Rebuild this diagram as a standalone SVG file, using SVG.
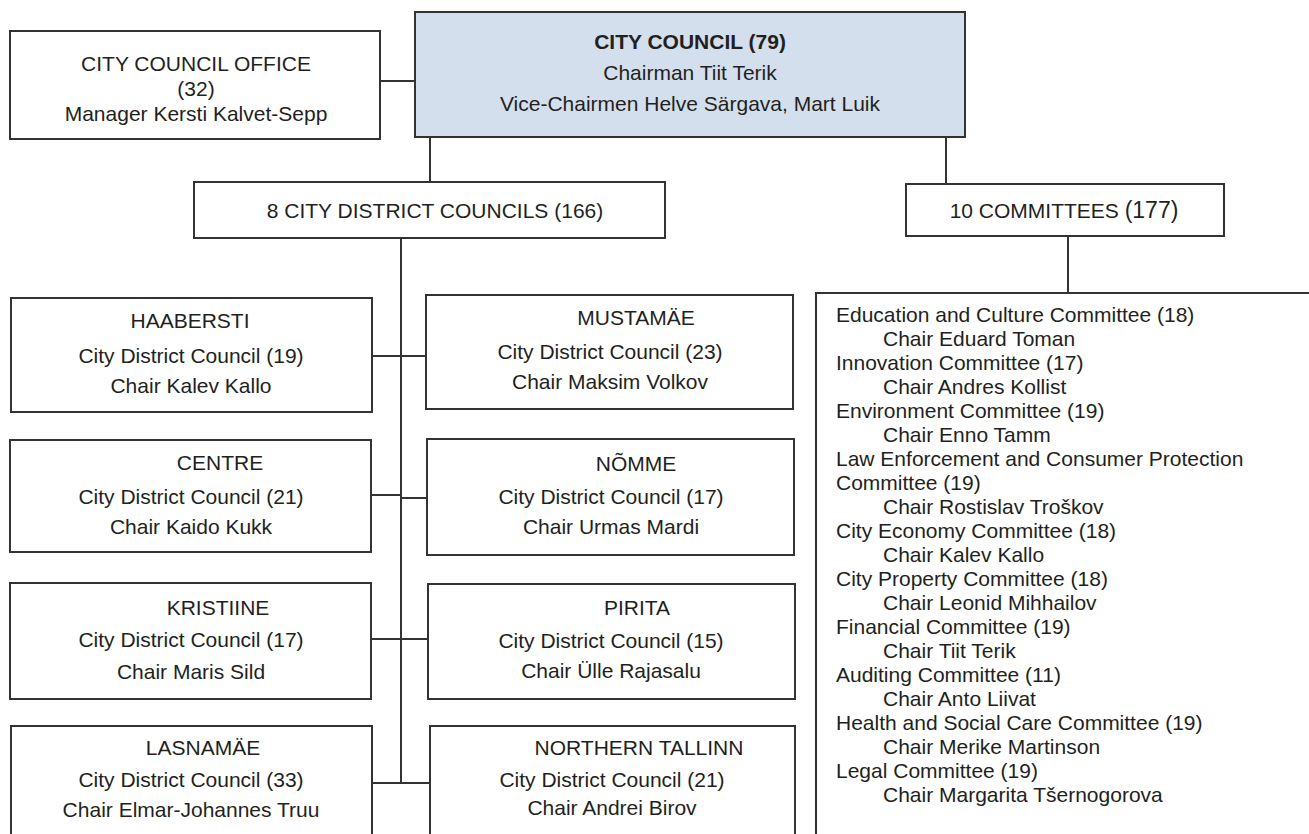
<svg xmlns="http://www.w3.org/2000/svg" width="1309" height="834" viewBox="0 0 1309 834">
<style>
.box{fill:#fff;stroke:#333;stroke-width:2}
.blue{fill:#d3dfec;stroke:#333;stroke-width:2}
.ln{stroke:#333;stroke-width:2;fill:none}
text{font-family:"Liberation Sans",Arial,sans-serif;font-size:21px;fill:#231f20}
.c{text-anchor:middle}
.b{font-weight:bold}
</style>
<rect width="1309" height="834" fill="#fff"/>
<g id="connectors">
<line class="ln" x1="380" y1="81" x2="415" y2="81"/>
<line class="ln" x1="430" y1="137" x2="430" y2="182"/>
<line class="ln" x1="946" y1="137" x2="946" y2="184"/>
<line class="ln" x1="1068" y1="236" x2="1068" y2="293"/>
<line class="ln" x1="401" y1="238" x2="401" y2="784"/>
<line class="ln" x1="372" y1="356" x2="426" y2="356"/>
<line class="ln" x1="371" y1="495" x2="401" y2="495"/>
<line class="ln" x1="401" y1="498" x2="427" y2="498"/>
<line class="ln" x1="371" y1="639" x2="428" y2="639"/>
<line class="ln" x1="372" y1="783" x2="430" y2="783"/>
</g>
<g id="office">
<rect class="box" x="10" y="31" width="370" height="108"/>
<text class="c" x="196" y="71">CITY COUNCIL OFFICE</text>
<text class="c" x="196" y="96">(32)</text>
<text class="c" x="196" y="121">Manager Kersti Kalvet-Sepp</text>
</g>
<g id="council">
<rect class="blue" x="415" y="12" width="550" height="125"/>
<text class="c b" x="690" y="49">CITY COUNCIL (79)</text>
<text class="c" x="690" y="80">Chairman Tiit Terik</text>
<text class="c" x="690" y="111">Vice-Chairmen Helve Särgava, Mart Luik</text>
</g>
<g id="districts">
<rect class="box" x="194" y="182" width="471" height="56"/>
<text class="c" x="435" y="218">8 CITY DISTRICT COUNCILS (166)</text>
</g>
<g id="committees">
<rect class="box" x="906" y="184" width="318" height="52"/>
<text class="c" x="1064" y="218"><tspan>10 COMMITTEES </tspan><tspan style="font-size:23px">(177)</tspan></text>
</g>
<g id="haabersti">
<rect class="box" x="11" y="298" width="361" height="114"/>
<text class="c" x="190" y="328">HAABERSTI</text>
<text class="c" x="191" y="363">City District Council (19)</text>
<text class="c" x="191" y="393">Chair Kalev Kallo</text>
</g>
<g id="mustamae">
<rect class="box" x="426" y="295" width="367" height="114"/>
<text class="c" x="636" y="325">MUSTAMÄE</text>
<text class="c" x="610" y="359">City District Council (23)</text>
<text class="c" x="610" y="389">Chair Maksim Volkov</text>
</g>
<g id="centre">
<rect class="box" x="10" y="440" width="361" height="112"/>
<text class="c" x="220" y="470">CENTRE</text>
<text class="c" x="191" y="504">City District Council (21)</text>
<text class="c" x="191" y="534">Chair Kaido Kukk</text>
</g>
<g id="nomme">
<rect class="box" x="427" y="439" width="367" height="116"/>
<text class="c" x="636" y="471">NÕMME</text>
<text class="c" x="611" y="504">City District Council (17)</text>
<text class="c" x="611" y="534">Chair Urmas Mardi</text>
</g>
<g id="kristiine">
<rect class="box" x="10" y="583" width="361" height="116"/>
<text class="c" x="218" y="615">KRISTIINE</text>
<text class="c" x="191" y="647">City District Council (17)</text>
<text class="c" x="191" y="679">Chair Maris Sild</text>
</g>
<g id="pirita">
<rect class="box" x="428" y="584" width="367" height="115"/>
<text class="c" x="637" y="615">PIRITA</text>
<text class="c" x="611" y="648">City District Council (15)</text>
<text class="c" x="611" y="678">Chair Ülle Rajasalu</text>
</g>
<g id="lasnamae">
<rect class="box" x="11" y="726" width="361" height="130"/>
<text class="c" x="203" y="755">LASNAMÄE</text>
<text class="c" x="191" y="787">City District Council (33)</text>
<text class="c" x="191" y="817">Chair Elmar-Johannes Truu</text>
</g>
<g id="northern">
<rect class="box" x="430" y="726" width="365" height="130"/>
<text class="c" x="639" y="755">NORTHERN TALLINN</text>
<text class="c" x="612" y="787">City District Council (21)</text>
<text class="c" x="612" y="815">Chair Andrei Birov</text>
</g>
<g id="committee-list">
<rect class="box" x="816" y="293" width="520" height="570"/>
<text x="836" y="322">Education and Culture Committee (18)</text>
<text x="883" y="346">Chair Eduard Toman</text>
<text x="836" y="370">Innovation Committee (17)</text>
<text x="883" y="394">Chair Andres Kollist</text>
<text x="836" y="418">Environment Committee (19)</text>
<text x="883" y="442">Chair Enno Tamm</text>
<text x="836" y="466">Law Enforcement and Consumer Protection</text>
<text x="836" y="490">Committee (19)</text>
<text x="883" y="514">Chair Rostislav Troškov</text>
<text x="836" y="538">City Economy Committee (18)</text>
<text x="883" y="562">Chair Kalev Kallo</text>
<text x="836" y="586">City Property Committee (18)</text>
<text x="883" y="610">Chair Leonid Mihhailov</text>
<text x="836" y="634">Financial Committee (19)</text>
<text x="883" y="658">Chair Tiit Terik</text>
<text x="836" y="682">Auditing Committee (11)</text>
<text x="883" y="706">Chair Anto Liivat</text>
<text x="836" y="730">Health and Social Care Committee (19)</text>
<text x="883" y="754">Chair Merike Martinson</text>
<text x="836" y="778">Legal Committee (19)</text>
<text x="883" y="802">Chair Margarita Tšernogorova</text>
</g>
</svg>
